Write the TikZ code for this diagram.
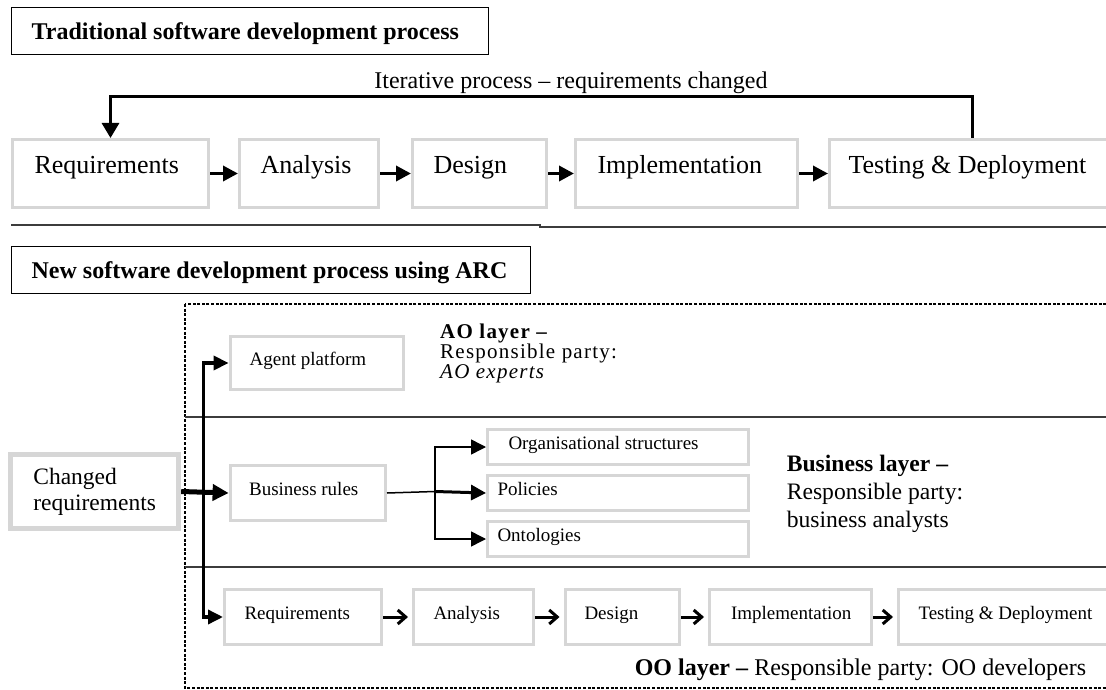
\documentclass[tikz,border=0pt]{standalone}
\usepackage{fontspec}
\setmainfont{Liberation Serif}
\usetikzlibrary{arrows.meta}
\definecolor{boxgray}{RGB}{214,214,214}
\definecolor{rulegray}{RGB}{60,60,60}
% left-aligned text in a box of fixed width
\newcommand{\padl}[2]{\makebox[#1][l]{#2}}

\begin{document}
\begin{tikzpicture}[x=1pt,y=-1pt,
  gbox/.style={draw=boxgray, line width=3pt, rectangle, inner ysep=0pt, anchor=north west},
  titlebox/.style={draw=black, line width=1.3pt, rectangle, inner ysep=0pt, minimum height=47pt,
    anchor=north west, font=\fontsize{24}{28}\selectfont\bfseries, text height=16pt, text depth=0pt},
  bigrow/.style={gbox, minimum height=68pt, font=\fontsize{26}{30}\selectfont, text height=8pt, text depth=8pt},
  smallbox/.style={gbox, font=\fontsize{19}{22}\selectfont, text height=7pt, text depth=3pt},
  chgbox/.style={draw=boxgray, line width=5pt, rectangle, minimum width=168pt, minimum height=74pt,
    align=left, font=\fontsize{23.5}{26}\selectfont},
  aotext/.style={anchor=base west, inner sep=0pt,
    font=\fontsize{21}{24}\selectfont\addfontfeature{LetterSpace=5.9}},
  biztext/.style={anchor=base west, inner sep=0pt, font=\fontsize{23.6}{28}\selectfont},
  steparrow/.style={line width=3.5pt, -{Triangle[length=15pt,width=15pt]}},
  loopline/.style={line width=3pt, -{Triangle[length=15pt,width=17pt]}},
  spinearrow/.style={line width=3.5pt, -{Triangle[length=15pt,width=14pt]}},
  chgarrow/.style={line width=5pt, -{Triangle[length=16pt,width=16pt]}},
  thinline/.style={line width=1.5pt},
  brarrow/.style={line width=1.5pt, -{Triangle[length=15pt,width=15pt]}},
  polarrow/.style={line width=3pt, -{Triangle[length=15pt,width=15pt]}},
  ooarrow/.style={line width=3pt, shorten >=4pt, -{Straight Barb[length=8pt,width=14pt]}},
  divline/.style={draw=rulegray, line width=1.8pt},
  layerline/.style={draw=rulegray, line width=1.5pt},
  dashline/.style={draw=black, line width=1.2pt, dash pattern=on 3pt off 1.6pt}
]
\useasboundingbox (0,0) rectangle (1106,690);

% ---------- traditional process ----------
\node[titlebox, inner xsep=20pt] (title1) at (11,7) {\padl{436.5pt}{Traditional software development process}};
\node[anchor=base, inner sep=0pt, font=\fontsize{24}{28}\selectfont] (iter) at (571,89) {Iterative process – requirements changed};

\node[bigrow, inner xsep=22pt] (req) at (11,138)  {\padl{152pt}{Requirements}};
\node[bigrow, inner xsep=21pt] (ana) at (238,138) {\padl{97pt}{Analysis}};
\node[bigrow, inner xsep=21pt] (des) at (411,138) {\padl{92pt}{Design}};
\node[bigrow, inner xsep=22pt] (imp) at (574,138) {\padl{178pt}{Implementation}};
\node[bigrow, inner xsep=19pt] (tst) at (828,138) {\padl{262pt}{Testing \& Deployment}};

\foreach \a/\b in {req/ana, ana/des, des/imp, imp/tst}
  \draw[steparrow] (\a.east) -- (\b.west);

% feedback loop
\coordinate (fbstart) at ([xshift=-7pt]tst.north);
\coordinate (loopy) at (0,97);
\draw[loopline] (fbstart) -- (fbstart |- loopy) -- (req.north |- loopy) -- (req.north);

% separator
\draw[divline] (11,225) -- (540,225) -- (540,227) -- (1110,227);

% ---------- new process ----------
\node[titlebox, inner xsep=20pt] (title2) at (11,246) {\padl{479pt}{New software development process using ARC}};

\draw[dashline] (185,304) rectangle (1115,688);
\draw[layerline] (185,417) -- (1115,417);
\draw[layerline] (185,567) -- (1115,567);

% AO layer
\node[smallbox, minimum height=53pt, inner xsep=19.5pt] (agent) at (228.6,335) {\padl{134pt}{Agent platform}};
\node[aotext] (ao1) at (440,338.5) {\textbf{AO layer –}};
\node[aotext] (ao2) at (440,358.5) {Responsible party:};
\node[aotext] (ao3) at (440,378.5) {\textit{AO experts}};

% business layer
\node[chgbox] (chg) at (94.7,491.5) {Changed\\requirements};
\node[smallbox, minimum height=55pt, inner xsep=19pt] (br) at (228.6,464) {\padl{117.4pt}{Business rules}};
\node[smallbox, minimum height=35pt, inner xsep=21pt] (org) at (486,428) {\padl{218.5pt}{Organisational structures}};
\node[smallbox, minimum height=35pt, inner xsep=10pt] (pol) at (486,474) {\padl{240.5pt}{Policies}};
\node[smallbox, minimum height=35pt, inner xsep=10pt] (ont) at (486,520) {\padl{240.5pt}{Ontologies}};
\node[biztext] (biz1) at (786.6,471) {\textbf{Business layer –}};
\node[biztext] (biz2) at (786.6,499.5) {Responsible party:};
\node[biztext] (biz3) at (786.6,527.5) {business analysts};

% OO layer
\node[smallbox, minimum height=55pt, inner xsep=20pt]   (r2) at (223,588)   {\padl{117pt}{Requirements}};
\node[smallbox, minimum height=55pt, inner xsep=20pt]   (a2) at (412,588)   {\padl{80pt}{Analysis}};
\node[smallbox, minimum height=55pt, inner xsep=19.5pt] (d2) at (563.5,588) {\padl{75.5pt}{Design}};
\node[smallbox, minimum height=55pt, inner xsep=21.5pt] (i2) at (708,588)   {\padl{119pt}{Implementation}};
\node[smallbox, minimum height=55pt, inner xsep=20pt]   (t2) at (897,588)   {\padl{200pt}{Testing \& Deployment}};
\node[anchor=base west, inner sep=0pt, font=\fontsize{24}{28}\selectfont] (oolab) at (634.6,675)
  {\textbf{OO layer –} Responsible party: OO developers};

\foreach \a/\b in {r2/a2, a2/d2, d2/i2, i2/t2}
  \draw[ooarrow] (\a.east) -- (\b.west);

% distribution of changed requirements
\coordinate (spine) at (203.6,491.5);
\draw[spinearrow] (spine) |- (agent.west);
\draw[spinearrow] (spine) |- (r2.west);
\draw[chgarrow] (chg.east) -- (br.west);

% business rules fan-out
\coordinate (fork) at (435,491.5);
\draw[thinline] (br.east) -- (fork);
\draw[brarrow] (fork) |- (org.west);
\draw[brarrow] (fork) |- (ont.west);
\draw[polarrow] (fork) -- (pol.west);
\end{tikzpicture}
\end{document}
